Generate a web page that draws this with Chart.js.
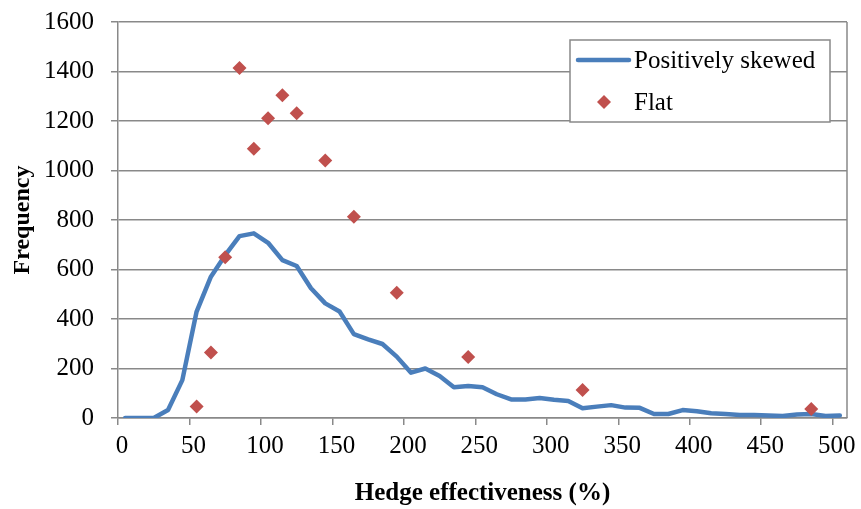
<!DOCTYPE html>
<html>
<head>
<meta charset="utf-8">
<script src="https://cdn.jsdelivr.net/npm/chart.js@4"></script>
<style>
html,body{margin:0;padding:0;background:#fff;}
canvas{display:block;}
</style>
</head>
<body>
<canvas id="c" width="861" height="509"></canvas>
<script>
// ---- Data ----
const skewedX = [5,15,25,35,45,55,65,75,85,95,105,115,125,135,145,155,165,175,185,195,205,215,225,235,245,255,265,275,285,295,305,315,325,335,345,355,365,375,385,395,405,415,425,435,445,455,465,475,485,495,505];
const skewedY = [0,0,0,32,153,430,571,658,735,746,708,638,614,524,463,430,339,318,299,248,183,200,170,124,129,124,96,75,75,81,74,69,39,46,52,42,41,16,16,32,27,19,16,12,12,10,8,14,16,8,10];
const flatX = [55,65,75,85,95,105,115,125,145,165,195,245,325,485];
const flatY = [46,265,649,1414,1088,1211,1304,1231,1040,813,506,246,113,36];
const seriesNames = ['Positively skewed','Flat'];
const xTitle = 'Hedge effectiveness (%)';
const yTitle = 'Frequency';

const FONT = '"Liberation Serif", "Times New Roman", serif';
const GRID = '#898989';

const skewedPts = skewedX.map((x,i)=>({x:x,y:skewedY[i]}));
const flatPts = flatX.map((x,i)=>({x:x,y:flatY[i]}));

const plotBorder = {
  id:'plotBorder',
  beforeDatasetsDraw(chart){
    const a = chart.chartArea, ctx = chart.ctx;
    ctx.save();
    ctx.strokeStyle = GRID; ctx.lineWidth = 1.5;
    ctx.beginPath();
    ctx.moveTo(a.right, a.top); ctx.lineTo(a.right, a.bottom);
    ctx.stroke();
    ctx.restore();
  }
};

const legendBox = {
  id:'legendBox',
  afterDatasetsDraw(chart){
    const ctx = chart.ctx;
    const ds = chart.data.datasets;
    const x0 = 570, y0 = 40, w = 260, h = 82;
    ctx.save();
    ctx.fillStyle = '#fff';
    ctx.fillRect(x0, y0, w, h);
    ctx.strokeStyle = GRID; ctx.lineWidth = 1.5;
    ctx.strokeRect(x0, y0, w, h);
    ctx.strokeStyle = ds[0].borderColor; ctx.lineWidth = ds[0].borderWidth; ctx.lineCap = 'round';
    ctx.beginPath(); ctx.moveTo(578, 60); ctx.lineTo(629, 60); ctx.stroke();
    ctx.fillStyle = ds[1].backgroundColor;
    Chart.helpers.drawPoint(ctx, {pointStyle:'rectRot', radius:7, borderWidth:0, rotation:0}, 604, 102);
    ctx.fillStyle = '#000';
    ctx.font = '25px ' + FONT;
    ctx.textBaseline = 'middle'; ctx.textAlign = 'left';
    ctx.fillText(ds[0].label, 634, 61);
    ctx.fillText(ds[1].label, 634, 103);
    ctx.restore();
  }
};

new Chart(document.getElementById('c'), {
  type:'scatter',
  data:{
    datasets:[
      {label:seriesNames[0], data:skewedPts, showLine:true, borderColor:'#4a7ebb', backgroundColor:'#4a7ebb',
       borderWidth:4.5, pointRadius:0, tension:0, borderJoinStyle:'round', borderCapStyle:'round', order:1},
      {label:seriesNames[1], data:flatPts, showLine:false, pointStyle:'rectRot', pointRadius:7,
       backgroundColor:'#c0504d', borderColor:'#c0504d', borderWidth:0, order:0}
    ]
  },
  options:{
    responsive:false, animation:false, devicePixelRatio:1,
    layout:{padding:{left:8, right:14, top:22, bottom:0}},
    plugins:{legend:{display:false}, tooltip:{enabled:false}},
    scales:{
      x:{type:'linear', min:0, max:510,
        ticks:{stepSize:50, includeBounds:false, color:'#000', font:{family:FONT, size:25}, padding:6, maxRotation:0, labelOffset:4},
        grid:{display:true, drawOnChartArea:false, drawTicks:true, tickLength:7, color:GRID, lineWidth:1.5},
        border:{display:true, color:GRID, width:1.5},
        title:{display:true, text:xTitle, color:'#000', font:{family:FONT, size:25, weight:'bold'}, padding:{top:0,bottom:0}},
        afterFit(s){ s.height = 91; s.paddingLeft = 0; s.paddingRight = 0; }
      },
      y:{min:0, max:1600,
        ticks:{stepSize:200, color:'#000', font:{family:FONT, size:25}, padding:17, callback:(v)=>String(v)},
        grid:{display:true, drawOnChartArea:true, drawTicks:true, tickLength:7, color:GRID, lineWidth:1.5},
        border:{display:true, color:GRID, width:1.5},
        title:{display:true, text:yTitle, color:'#000', font:{family:FONT, size:24, weight:'bold'}, padding:{top:0,bottom:0}},
        afterFit(s){ s.width = 110; s.paddingTop = 0; s.paddingBottom = 0; }
      }
    }
  },
  plugins:[plotBorder, legendBox]
});
</script>
</body>
</html>
